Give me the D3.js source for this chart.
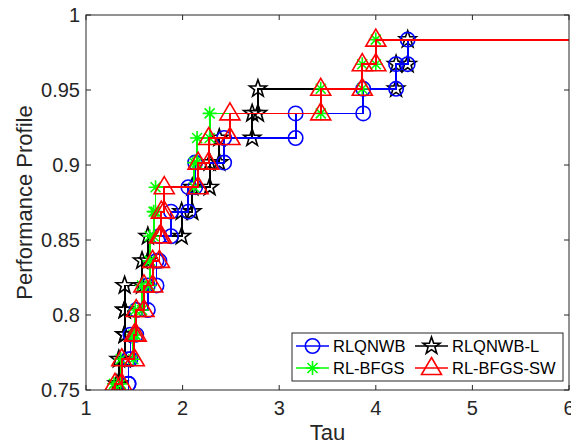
<!DOCTYPE html>
<html>
<head>
<meta charset="utf-8">
<script src="https://cdn.jsdelivr.net/npm/d3@7"></script>
<style>
  body { margin: 0; background: #fff; }
  svg { display: block; font-family: "Liberation Sans", Arial, sans-serif; }
</style>
</head>
<body>
<svg id="chart" width="571" height="445"></svg>
<script>
// profile levels reached after each step (fraction of problems solved)
const baseLevel = 0.7377;
const profileLevels = [0.7541, 0.7705, 0.7869, 0.8033, 0.8197, 0.8361, 0.8525, 0.8689,
  0.8852, 0.9016, 0.9180, 0.9344, 0.9508, 0.9672, 0.9836];

// tau where each series steps up to the matching level
const tauRLQNWB = [1.44, 1.44, 1.46, 1.52, 1.64, 1.73, 1.76, 1.88, 2.06, 2.13, 2.43, 3.17, 3.87, 4.21, 4.33];
const tauRLQNWBL = [1.32, 1.34, 1.40, 1.40, 1.40, 1.58, 1.64, 1.99, 2.10, 2.28, 2.38, 2.72, 2.78, 4.21, 4.33];
const tauRLBFGS = [1.29, 1.36, 1.49, 1.51, 1.58, 1.66, 1.66, 1.70, 1.72, 2.12, 2.15, 2.28, 3.43, 3.86, 4.00];
const tauRLBFGSSW = [1.30, 1.37, 1.50, 1.52, 1.60, 1.69, 1.76, 1.78, 1.81, 2.16, 2.27, 2.49, 3.43, 3.86, 4.00];

const xTicks = [1, 2, 3, 4, 5, 6];
const yTicks = [0.75, 0.8, 0.85, 0.9, 0.95, 1];

const series = [
  { name: "RLQNWB-L", taus: tauRLQNWBL, color: "#000000", marker: "star" },
  { name: "RLQNWB", taus: tauRLQNWB, color: "#0000ff", marker: "circle" },
  { name: "RL-BFGS", taus: tauRLBFGS, color: "#00ff00", marker: "asterisk" },
  { name: "RL-BFGS-SW", taus: tauRLBFGSSW, color: "#ff0000", marker: "triangle" }
];
const legendOrder = ["RLQNWB", "RLQNWB-L", "RL-BFGS", "RL-BFGS-SW"];

const width = 571;
const height = 445;
const margin = { top: 15, right: 2, bottom: 55, left: 86 };
const axisColor = "#262626";

const svg = d3.select("#chart");

const x = d3.scaleLinear().domain([1, 6]).range([margin.left, width - margin.right]);
const y = d3.scaleLinear().domain([0.75, 1]).range([height - margin.bottom, margin.top]);

function markerPath(type) {
  if (type === "circle") {
    return d3.symbol(d3.symbolCircle, Math.PI * 7.2 * 7.2)();
  }
  if (type === "triangle") {
    return "M0,-10.5L10,6.5L-10,6.5Z";
  }
  if (type === "asterisk") {
    const r = 7, d = 5;
    return `M${-r},0L${r},0M0,${-r}L0,${r}M${-d},${-d}L${d},${d}M${-d},${d}L${d},${-d}`;
  }
  // five-point star
  const pts = d3.range(10).map((i) => {
    const rad = i % 2 === 0 ? 9 : 3.6;
    const a = -Math.PI / 2 + i * Math.PI / 5;
    return [rad * Math.cos(a), rad * Math.sin(a)];
  });
  return "M" + pts.map((p) => p.join(",")).join("L") + "Z";
}

function stairPoints(taus) {
  const pts = [];
  taus.forEach((t, i) => {
    const prev = i === 0 ? baseLevel : profileLevels[i - 1];
    pts.push([t, prev]);
    pts.push([t, profileLevels[i]]);
  });
  return pts;
}

svg.append("rect").attr("width", width).attr("height", height).attr("fill", "#fff");

svg.append("clipPath").attr("id", "plot-clip")
  .append("rect")
  .attr("x", margin.left)
  .attr("y", margin.top)
  .attr("width", x(6) - margin.left)
  .attr("height", y(0.75) - margin.top);

const plot = svg.append("g").attr("clip-path", "url(#plot-clip)");

series.forEach((s) => {
  const pts = stairPoints(s.taus);
  const linePts = pts.concat([[6, profileLevels[profileLevels.length - 1]]]);
  plot.append("path")
    .attr("d", d3.line().x((d) => x(d[0])).y((d) => y(d[1]))(linePts))
    .attr("fill", "none")
    .attr("stroke", s.color)
    .attr("stroke-width", 1.8)
    .attr("shape-rendering", "crispEdges");

  plot.append("g")
    .selectAll("path")
    .data(pts.filter((d) => d[1] >= 0.75))
    .join("path")
    .attr("transform", (d) => `translate(${x(d[0])},${y(d[1])})`)
    .attr("d", markerPath(s.marker))
    .attr("fill", "none")
    .attr("stroke", s.color)
    .attr("stroke-width", 1.6);
});

// axes box
const box = svg.append("g");
box.append("rect")
  .attr("x", margin.left)
  .attr("y", margin.top)
  .attr("width", x(6) - margin.left)
  .attr("height", y(0.75) - margin.top)
  .attr("fill", "none")
  .attr("stroke", axisColor)
  .attr("stroke-width", 1);

const tickLen = 5;
box.selectAll(".xt")
  .data(xTicks)
  .join("g")
  .each(function(d) {
    const g = d3.select(this);
    g.append("line").attr("x1", x(d)).attr("x2", x(d)).attr("y1", y(0.75)).attr("y2", y(0.75) - tickLen).attr("stroke", axisColor);
    g.append("line").attr("x1", x(d)).attr("x2", x(d)).attr("y1", y(1)).attr("y2", y(1) + tickLen).attr("stroke", axisColor);
    g.append("text")
      .attr("x", x(d))
      .attr("y", y(0.75) + 25)
      .attr("text-anchor", "middle")
      .attr("font-size", 20)
      .attr("fill", axisColor)
      .text(d);
  });

box.selectAll(".yt")
  .data(yTicks)
  .join("g")
  .each(function(d) {
    const g = d3.select(this);
    g.append("line").attr("x1", x(1)).attr("x2", x(1) + tickLen).attr("y1", y(d)).attr("y2", y(d)).attr("stroke", axisColor);
    g.append("line").attr("x1", x(6)).attr("x2", x(6) - tickLen).attr("y1", y(d)).attr("y2", y(d)).attr("stroke", axisColor);
    g.append("text")
      .attr("x", x(1) - 6)
      .attr("y", y(d))
      .attr("dy", "0.36em")
      .attr("text-anchor", "end")
      .attr("font-size", 20)
      .attr("fill", axisColor)
      .text(d);
  });

svg.append("text")
  .attr("x", (x(1) + x(6)) / 2)
  .attr("y", 440)
  .attr("text-anchor", "middle")
  .attr("font-size", 22)
  .attr("fill", axisColor)
  .text("Tau");

svg.append("text")
  .attr("transform", `translate(32,${(y(0.75) + y(1)) / 2}) rotate(-90)`)
  .attr("text-anchor", "middle")
  .attr("font-size", 22)
  .attr("fill", axisColor)
  .text("Performance Profile");

// legend
const legend = svg.append("g");
legend.append("rect")
  .attr("x", 292)
  .attr("y", 333)
  .attr("width", 271)
  .attr("height", 48)
  .attr("fill", "#fff")
  .attr("stroke", axisColor)
  .attr("stroke-width", 1);

const legendCols = [296, 415];
const legendRows = [346, 368];
legendOrder.forEach((name, i) => {
  const s = series.find((d) => d.name === name);
  const lx = legendCols[i % 2];
  const ly = legendRows[Math.floor(i / 2)];
  legend.append("line")
    .attr("x1", lx).attr("x2", lx + 33)
    .attr("y1", ly).attr("y2", ly)
    .attr("stroke", s.color)
    .attr("stroke-width", 1.6);
  legend.append("path")
    .attr("transform", `translate(${lx + 16.5},${ly})`)
    .attr("d", markerPath(s.marker))
    .attr("fill", "none")
    .attr("stroke", s.color)
    .attr("stroke-width", 1.6);
  legend.append("text")
    .attr("x", lx + 37)
    .attr("y", ly)
    .attr("dy", "0.36em")
    .attr("font-size", 16.5)
    .attr("fill", "#000")
    .text(name);
});
</script>
</body>
</html>
